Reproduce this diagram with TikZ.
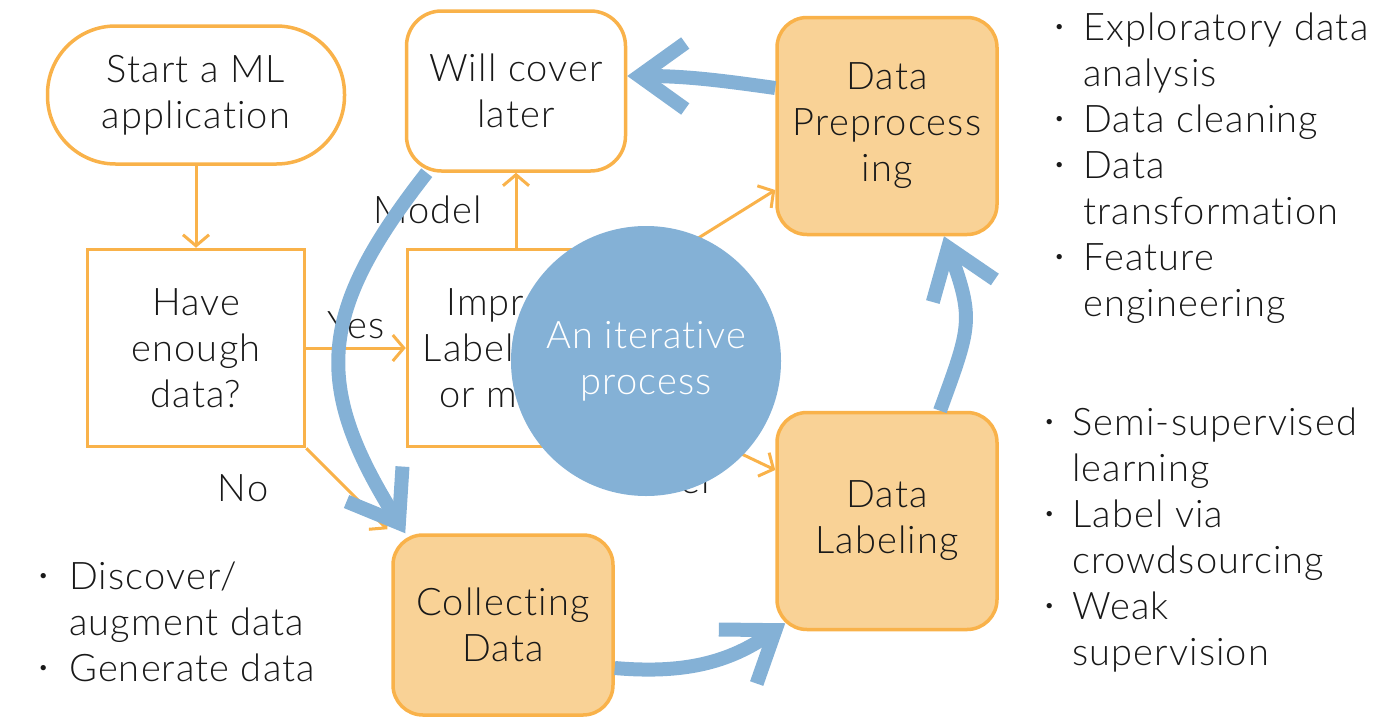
\documentclass[tikz,border=0pt]{standalone}
\usepackage{fontspec}
\setmainfont{Lato}[UprightFont=* Light, LetterSpace=3, Ligatures=NoCommon]
\usepackage{tikz}
\usetikzlibrary{
  arrows.meta,
  positioning,
  shapes.geometric
}
\definecolor{BoxOrange}{RGB}{249, 178, 74}
\definecolor{BoxFill}{RGB}{249, 210, 150}
\definecolor{LoopBlue}{RGB}{132, 177, 214}
\definecolor{InkGray}{RGB}{25, 25, 25}
\tikzset{
    every node/.style={font=\fontsize{38}{46}\selectfont, text=InkGray},
    flowbox/.style={draw=BoxOrange, line width=3.5pt, align=center, inner sep=0pt,
        minimum width=217pt, minimum height=197pt},
    stagebox/.style={flowbox, fill=BoxFill, rounded corners=30pt,
        minimum width=220pt, minimum height=217pt},
    flowarrow/.style={draw=BoxOrange, line width=3pt, -{Straight Barb[length=11pt, width=26pt]}},
    looparrow/.style={draw=LoopBlue, line width=14pt, -{Straight Barb[length=46pt, width=66pt]}},
    bulletlist/.style={align=left, anchor=north west, inner sep=0pt}
}
\newcommand{\bulletmark}[1]{\makebox[#1][l]{\raisebox{8pt}{\fontsize{18}{18}\selectfont\textbullet}}}

\begin{document}
\begin{tikzpicture}[x=1pt, y=-1pt]
    \useasboundingbox (0,0) rectangle (1400,726);

    \node[flowbox, rounded corners=68pt, minimum width=297pt, minimum height=138pt] (start) at (196,95) {Start a ML\\application};
    \node[flowbox, rounded corners=35pt, minimum width=219pt, minimum height=160pt] (later) at (516,91) {Will cover\\later};
    \node[flowbox] (enough) at (196,348) {Have\\enough\\data?};
    \node[flowbox] (improve) at (516,348) {Improve\\Label, data\\or model};
    \node[stagebox] (prep) at (887,126) {Data\\Preprocess\\ing};
    \node[stagebox] (labeling) at (887,521) {Data\\Labeling};
    \node[stagebox, minimum height=180pt] (collect) at (503,625) {Collecting\\Data};

    \draw[flowarrow] (start) -- (enough);
    \draw[flowarrow] (enough) -- node[above=4pt] (yes) {Yes} (improve);
    \draw[flowarrow] (enough.south east) -- ([shift={(-4,-4)}]collect.north west);
    \node (no) at (243,488) {No};
    \draw[flowarrow] (improve) -- node[left=29pt] (model) {Model} (later);
    \draw[flowarrow] ([yshift=65pt]improve.east) -- ([yshift=-64pt]prep.west);
    \node (data) at (708,280) {Data};
    \draw[flowarrow] ([yshift=-51pt]improve.east) -- ([yshift=51pt]labeling.west);
    \node (label) at (664,480) {Label};

    \node[circle, fill=LoopBlue, minimum size=270pt, inner sep=0pt, align=center, text=white] (loop) at (646,361) {An iterative\\process};

    \draw[looparrow] ([yshift=38pt]prep.west) to[out=172, in=0] ([yshift=15pt]later.east);
    \draw[looparrow] ([xshift=22pt]later.south west) to[out=232, in=122, looseness=1.25] ([xshift=14pt]collect.north west);
    \draw[looparrow] ([yshift=-43pt]collect.east) to[out=-5, in=215] ([shift={(10,-8)}]labeling.south west);
    \draw[looparrow] ([xshift=53pt]labeling.north) to[out=70, in=-70, looseness=1.3] ([xshift=57pt]prep.south);

    \node[bulletlist] (prep list) at (1054,13) {\bulletmark{29pt}Exploratory data\\\hspace*{29pt}analysis\\\bulletmark{29pt}Data cleaning\\\bulletmark{29pt}Data\\\hspace*{29pt}transformation\\\bulletmark{29pt}Feature\\\hspace*{29pt}engineering};
    \node[bulletlist] (label list) at (1044,408) {\bulletmark{28pt}Semi-supervised\\\hspace*{28pt}learning\\\bulletmark{28pt}Label via\\\hspace*{28pt}crowdsourcing\\\bulletmark{28pt}Weak\\\hspace*{28pt}supervision};
    \node[bulletlist] (collect list) at (38,562) {\bulletmark{31pt}Discover/\\\hspace*{31pt}augment data\\\bulletmark{31pt}Generate data};
\end{tikzpicture}
\end{document}
